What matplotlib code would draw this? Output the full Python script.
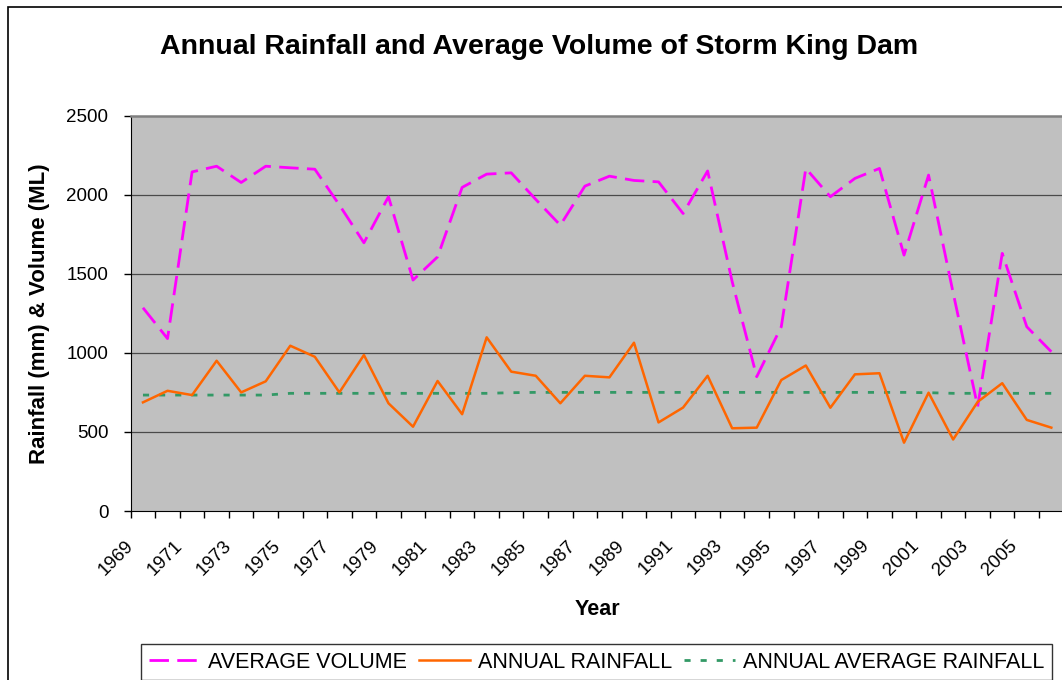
import numpy as np
import matplotlib.pyplot as plt
from matplotlib.patches import Rectangle

plt.rcParams['font.family'] = ['Liberation Sans', 'DejaVu Sans']

# ---- data ----
years = list(range(1969, 2007))

avg_volume = [1285, 1090, 2144, 2180, 2077, 2180, 2170, 2161, 1935, 1696,
              1987, 1460, 1607, 2046, 2130, 2138, 1970, 1807, 2054, 2117,
              2090, 2081, 1881, 2150, 1450, 849, 1165, 2166, 1987, 2103,
              2166, 1618, 2124, 1380, 660, 1629, 1165, 1007]

annual_rain = [687, 760, 733, 950, 750, 820, 1045, 975, 750, 986,
               681, 533, 822, 612, 1098, 881, 855, 681, 855, 845,
               1064, 560, 654, 855, 523, 527, 828, 920, 653, 864,
               871, 432, 748, 452, 690, 808, 576, 527]

avg_rain = [733, 733, 733, 733, 733, 733, 744, 744, 744, 744,
            744, 744, 744, 744, 744, 748, 750, 750, 750, 750,
            750, 750, 750, 750, 750, 750, 750, 750, 750, 750,
            750, 750, 748, 744, 744, 744, 744, 744]

y_ticks = [0, 500, 1000, 1500, 2000, 2500]

W, H = 1062, 680
fig = plt.figure(figsize=(W / 100, H / 100), dpi=100)

# outer chart border (cropped on right/bottom in the reference)
fig.patches.append(Rectangle((8 / W, -0.1), 1.2, 1 - 7 / H + 0.1, transform=fig.transFigure,
                             fill=False, edgecolor='black', lw=1.2))

left, right = 130.7 / W, 1063.6 / W
bottom, top = 1 - 511 / H, 1 - 115.6 / H
ax = fig.add_axes([left, bottom, right - left, top - bottom])
ax.set_facecolor('#C0C0C0')

x = np.arange(len(years))
l1, = ax.plot(x, avg_volume, color='#FF00FF', lw=2.0, dashes=(7, 3), zorder=3)
l2, = ax.plot(x, annual_rain, color='#FF6600', lw=1.8, zorder=4)
l3, = ax.plot(x, avg_rain, color='#339966', lw=2.0, dashes=(2.2, 3.6), zorder=3)

ax.set_xlim(-0.5, len(years) - 0.5)
ax.set_ylim(0, 2500)
ax.set_yticks(y_ticks)
for yv in y_ticks[1:-1]:
    ax.axhline(yv, color='#4a4a4a', lw=0.9, zorder=1)

# category axis: ticks between categories, label every second one
ax.set_xticks(x - 0.5)
ax.set_xticklabels([str(yr) if i % 2 == 0 else '' for i, yr in enumerate(years)],
                   rotation=45, ha='right', va='center', rotation_mode='anchor')
ax.tick_params(axis='x', length=5, width=1, pad=18, labelsize=13.5, direction='out')
ax.tick_params(axis='y', length=5, width=1, pad=11, labelsize=13.5, direction='out')

ax.spines['right'].set_visible(False)
ax.spines['left'].set_color('black')
ax.spines['bottom'].set_color('black')
ax.spines['top'].set_color('#808080')
ax.spines['top'].set_linewidth(1.8)

ax.set_xlabel('Year', fontsize=15.5, fontweight='bold', labelpad=15)
ax.set_ylabel('Rainfall (mm) & Volume (ML)', fontsize=16, fontweight='bold', labelpad=12)

fig.text(0.5 * (157 + 922) / W, 1 - 47 / H, 'Annual Rainfall and Average Volume of Storm King Dam',
         ha='center', va='center', fontsize=20.5, fontweight='bold')

leg = fig.legend([l1, l2, l3], ['AVERAGE VOLUME', 'ANNUAL RAINFALL', 'ANNUAL AVERAGE RAINFALL'],
                 loc='upper center', bbox_to_anchor=(596.5 / W, 1 - 644 / H), ncol=3,
                 fontsize=15.5, frameon=True, fancybox=False, edgecolor='black',
                 handlelength=2.4, handletextpad=0.35, columnspacing=0.55, borderpad=0.35,
                 borderaxespad=0)
leg.get_frame().set_linewidth(1.0)

fig.savefig('out.png', dpi=100)
